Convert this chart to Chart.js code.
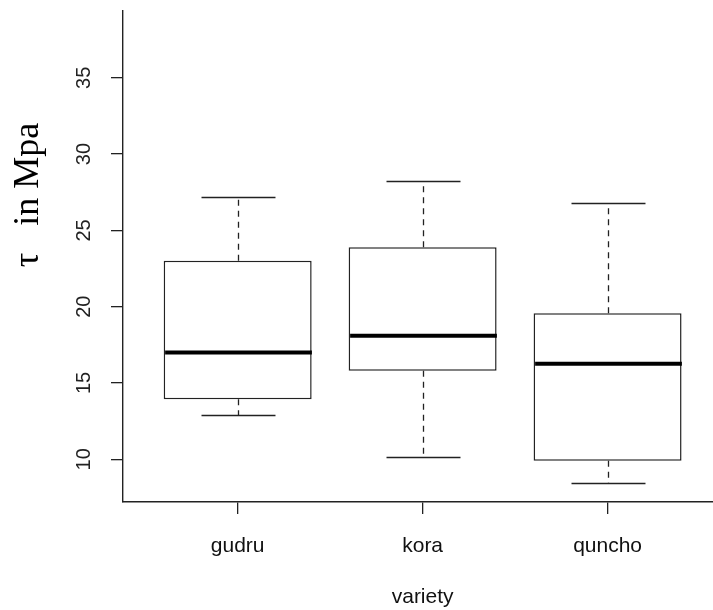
<!DOCTYPE html>
<html>
<head>
<meta charset="utf-8">
<script src="https://cdn.jsdelivr.net/npm/chart.js@4/dist/chart.umd.min.js"></script>
<style>
html,body{margin:0;padding:0;background:#fff;overflow:hidden}
#wrap{width:713px;height:610px;position:relative}
</style>
</head>
<body>
<div id="wrap"><canvas id="c" width="713" height="610"></canvas></div>
<script>
// ---- data ----
const categories = ['gudru', 'kora', 'quncho'];
const whiskerLow = [12.90, 10.17, 8.43];
const q1 = [13.93, 15.81, 9.91];
const medians = [16.99, 18.10, 16.26];
const q3 = [23.01, 23.89, 19.57];
const whiskerHigh = [27.21, 28.26, 26.82];
const yTicks = [10, 15, 20, 25, 30, 35];
const xTitle = 'variety';
const yTitle = 'τ   in Mpa';

const positions = categories.map((_, i) => i + 1);
const LINE = '#222';

const boxParts = {
  id: 'boxParts',
  afterDatasetsDraw(chart) {
    const { ctx, scales: { x, y } } = chart;
    const meta = chart.getDatasetMeta(0);
    const seg = (x1, y1, x2, y2) => { ctx.beginPath(); ctx.moveTo(x1, y1); ctx.lineTo(x2, y2); ctx.stroke(); };
    ctx.save();
    ctx.strokeStyle = LINE;
    ctx.lineCap = 'butt';
    positions.forEach((pos, i) => {
      const cx = Math.round(x.getPixelForValue(pos)) + 0.5;
      const half = meta.data[i].width / 2;
      const cap = half / 2;
      const yLo = Math.round(y.getPixelForValue(whiskerLow[i])) + 0.5;
      const yQ1 = y.getPixelForValue(q1[i]);
      const yMed = y.getPixelForValue(medians[i]);
      const yQ3 = y.getPixelForValue(q3[i]);
      const yHi = Math.round(y.getPixelForValue(whiskerHigh[i])) + 0.5;
      ctx.lineWidth = 1.3;
      ctx.setLineDash([6, 5]);
      seg(cx, yQ3, cx, yHi);
      seg(cx, yQ1, cx, yLo);
      ctx.setLineDash([]);
      seg(cx - cap, yHi, cx + cap, yHi);
      seg(cx - cap, yLo, cx + cap, yLo);
      ctx.strokeStyle = '#000';
      ctx.lineWidth = 4;
      seg(cx - half + 0.6, yMed, cx + half - 0.6, yMed);
      ctx.strokeStyle = LINE;
    });
    // axis titles
    ctx.fillStyle = '#111';
    ctx.font = '21px "Liberation Sans", Arial, sans-serif';
    ctx.textAlign = 'center';
    ctx.textBaseline = 'alphabetic';
    ctx.fillText(xTitle, x.getPixelForValue(2), 603);
    ctx.save();
    ctx.translate(38, 195);
    ctx.rotate(-Math.PI / 2);
    ctx.font = '36px "Liberation Serif", "Times New Roman", serif';
    ctx.fillStyle = '#000';
    ctx.fillText(yTitle, 0, 0);
    ctx.restore();
    ctx.restore();
  }
};

new Chart(document.getElementById('c'), {
  type: 'bar',
  data: {
    datasets: [{
      data: positions.map((p, i) => ({ x: p, y: [q1[i], q3[i]] })),
      backgroundColor: '#ffffff',
      borderColor: LINE,
      borderWidth: 1.5,
      borderSkipped: false,
      barPercentage: 0.8,
      categoryPercentage: 1
    }]
  },
  options: {
    responsive: false,
    animation: false,
    events: [],
    layout: { padding: { top: 11, left: 0, right: 0, bottom: 0 } },
    plugins: { legend: { display: false }, tooltip: { enabled: false } },
    scales: {
      x: {
        type: 'linear',
        offset: false,
        min: 0.38,
        max: 3.57,
        afterBuildTicks: s => { s.ticks = positions.map(v => ({ value: v })); },
        afterFit: s => { s.height = 108; s.paddingLeft = 0; s.paddingRight = 0; },
        ticks: {
          autoSkip: false,
          maxRotation: 0,
          padding: 20,
          color: '#111',
          font: { family: '"Liberation Sans", Arial, sans-serif', size: 21 },
          callback: (v, i) => categories[i]
        },
        grid: { offset: false, drawOnChartArea: false, drawTicks: true, tickLength: 12, color: LINE, lineWidth: 1.3 },
        border: { display: true, color: LINE, width: 1.4 }
      },
      y: {
        type: 'linear',
        min: 7.2,
        max: 39.38,
        afterBuildTicks: s => { s.ticks = yTicks.map(v => ({ value: v })); },
        afterFit: s => { s.width = 123; s.paddingTop = 0; s.paddingBottom = 0; },
        ticks: {
          autoSkip: false,
          minRotation: 90,
          maxRotation: 90,
          crossAlign: 'center',
          padding: 15,
          color: '#222',
          font: { family: '"Liberation Sans", Arial, sans-serif', size: 20 },
          callback: v => String(v)
        },
        grid: { drawOnChartArea: false, drawTicks: true, tickLength: 12, color: LINE, lineWidth: 1.3 },
        border: { display: true, color: LINE, width: 1.4 }
      }
    }
  },
  plugins: [boxParts]
});
</script>
</body>
</html>
